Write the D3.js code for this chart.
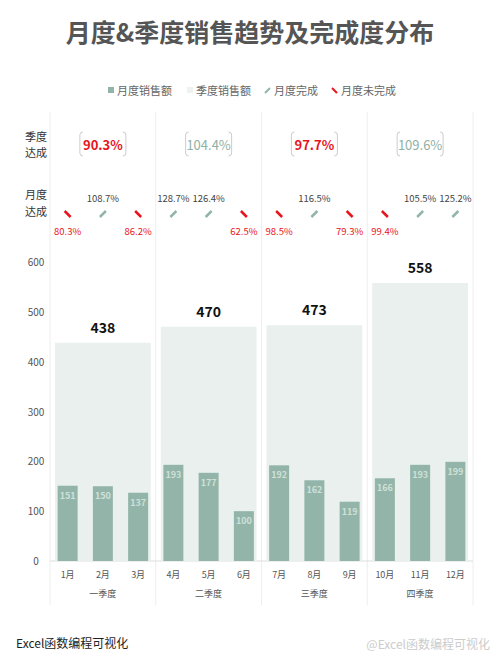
<!DOCTYPE html><html><head><meta charset="utf-8"><script src="https://cdn.jsdelivr.net/npm/d3@7"></script>
<style>body{margin:0;background:#fff}svg{font-family:"Noto Sans CJK SC","Noto Sans",sans-serif}</style></head><body><svg id="c" width="500" height="667"></svg>
<script>
const months=["1月","2月","3月","4月","5月","6月","7月","8月","9月","10月","11月","12月"];
const quarters=["一季度","二季度","三季度","四季度"];
const monthSales=[151,150,137,193,177,100,192,162,119,166,193,199];
const quarterSales=[438,470,473,558];
const monthRate=[80.3,108.7,86.2,128.7,126.4,62.5,98.5,116.5,79.3,99.4,105.5,125.2];
const quarterRate=[90.3,104.4,97.7,109.6];
const yTicks=[0,100,200,300,400,500,600];
const svg=d3.select("#c");
const L=50,R=473,green="#93b5a9",red="#e8141c";
const y=d3.scaleLinear().domain([0,600]).range([561,262]);
const xq=d3.scaleBand().domain(quarters).range([L,R]);
const xm=d3.scaleBand().domain(months).range([L,R]);
svg.append("text").attr("x",250).attr("y",42).attr("text-anchor","middle").attr("font-size",25).attr("font-weight","bold").attr("fill","#555").text("月度&季度销售趋势及完成度分布");
const lg=svg.append("g").attr("font-size",11).attr("fill","#666");
[["月度销售额",108],["季度销售额",187],["月度完成",265],["月度未完成",332]].forEach((d,i)=>{
 const g=lg.append("g").attr("transform",`translate(${d[1]},91)`);
 if(i==0)g.append("rect").attr("x",0).attr("y",-4).attr("width",6).attr("height",6).attr("fill",green);
 if(i==1)g.append("rect").attr("x",0).attr("y",-4).attr("width",6).attr("height",6).attr("fill","#eef2f1");
 if(i==2)g.append("line").attr("x1",0).attr("y1",2).attr("x2",5).attr("y2",-3).attr("stroke",green).attr("stroke-width",2);
 if(i==3)g.append("line").attr("x1",0).attr("y1",-3).attr("x2",5).attr("y2",2).attr("stroke",red).attr("stroke-width",2);
 g.append("text").attr("x",9).attr("y",4).attr("fill","#666").text(d[0]);
});
quarters.concat(["end"]).forEach((q,i)=>{const x=i<4?xq(q):R;svg.append("line").attr("x1",x).attr("x2",x).attr("y1",112).attr("y2",605).attr("stroke","#eee");});
svg.append("line").attr("x1",L).attr("x2",R).attr("y1",561).attr("y2",561).attr("stroke","#ddd");
yTicks.forEach(t=>svg.append("text").attr("x",36).attr("y",y(t)+4).attr("text-anchor","middle").attr("font-size",10).attr("fill","#555").text(t));
svg.selectAll(".qb").data(quarterSales).join("rect").attr("x",(d,i)=>xq(quarters[i])+5).attr("width",xq.bandwidth()-10).attr("y",d=>y(d)).attr("height",d=>561-y(d)).attr("fill","#e9f0ee");
svg.selectAll(".ql").data(quarterSales).join("text").attr("x",(d,i)=>xq(quarters[i])+xq.bandwidth()/2).attr("y",d=>y(d)-10).attr("text-anchor","middle").attr("font-size",14).attr("font-weight","bold").attr("fill","#111").text(d=>d);
const bw=20;
svg.selectAll(".mb").data(monthSales).join("rect").attr("x",(d,i)=>xm(months[i])+xm.bandwidth()/2-bw/2).attr("width",bw).attr("y",d=>y(d)).attr("height",d=>561-y(d)).attr("fill",green);
svg.selectAll(".ml").data(monthSales).join("text").attr("x",(d,i)=>xm(months[i])+xm.bandwidth()/2).attr("y",d=>y(d)+13).attr("text-anchor","middle").attr("font-size",9).attr("font-weight","bold").attr("fill","#cfe0d9").text(d=>d);
months.forEach(m=>svg.append("text").attr("x",xm(m)+xm.bandwidth()/2).attr("y",578).attr("text-anchor","middle").attr("font-size",9).attr("fill","#555").text(m));
quarters.forEach(q=>svg.append("text").attr("x",xq(q)+xq.bandwidth()/2).attr("y",597).attr("text-anchor","middle").attr("font-size",9).attr("fill","#555").text(q));
[["季度",141],["达成",157],["月度",199],["达成",216]].forEach(d=>svg.append("text").attr("x",25).attr("y",d[1]).attr("font-size",11).attr("fill","#333").text(d[0]));
quarterRate.forEach((r,i)=>{const cx=xq(quarters[i])+xq.bandwidth()/2,ok=r>=100;
 svg.append("text").attr("x",cx).attr("y",150).attr("text-anchor","middle").attr("font-size",13).attr("font-weight",ok?"normal":"bold").attr("fill",ok?"#8fb0a5":red).text(r.toFixed(1)+"%");
 const w=46;
 svg.append("path").attr("d",`M${cx-w/2+3},132 q-3,0 -3,3 v18 q0,3 3,3`).attr("fill","none").attr("stroke","#ccc");
 svg.append("path").attr("d",`M${cx+w/2-3},132 q3,0 3,3 v18 q0,3 -3,3`).attr("fill","none").attr("stroke","#ccc");
});
monthRate.forEach((r,i)=>{const cx=xm(months[i])+xm.bandwidth()/2,ok=r>=100;
 if(ok){svg.append("line").attr("x1",cx-3).attr("y1",217).attr("x2",cx+3).attr("y2",211).attr("stroke",green).attr("stroke-width",2.5);
  svg.append("text").attr("x",cx).attr("y",202).attr("text-anchor","middle").attr("font-size",9.5).attr("fill","#444").text(r.toFixed(1)+"%");}
 else{svg.append("line").attr("x1",cx-3).attr("y1",211).attr("x2",cx+3).attr("y2",217).attr("stroke",red).attr("stroke-width",2.5);
  svg.append("text").attr("x",cx).attr("y",235).attr("text-anchor","middle").attr("font-size",9.5).attr("fill",red).text(r.toFixed(1)+"%");}
});
svg.append("text").attr("x",16).attr("y",648).attr("font-size",12).attr("fill","#222").text("Excel函数编程可视化");
svg.append("text").attr("x",490).attr("y",649).attr("text-anchor","end").attr("font-size",12).attr("fill","#ccc").text("@Excel函数编程可视化");
</script></body></html>
